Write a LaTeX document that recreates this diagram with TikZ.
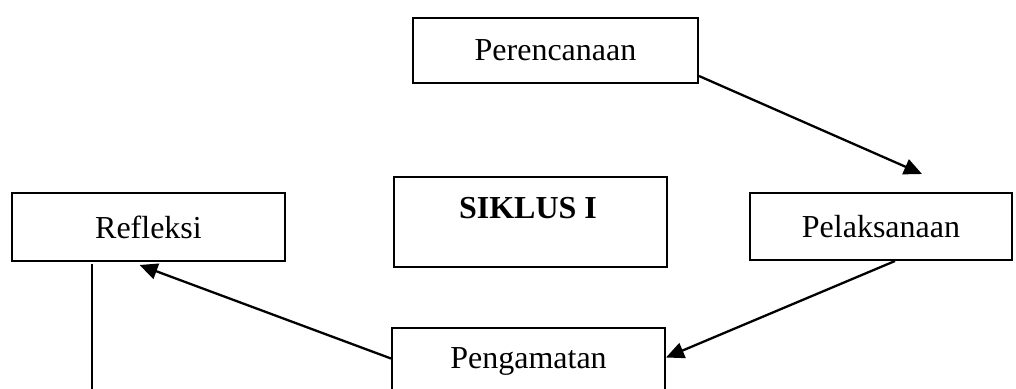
\documentclass[tikz,border=0pt]{standalone}
\usepackage{fontspec}
\setmainfont{Liberation Serif}
\usetikzlibrary{arrows.meta,calc}
\begin{document}
\begin{tikzpicture}[x=1pt,y=-1pt,
  stage/.style={draw=black,line width=2pt,rectangle,inner sep=0pt,
    font=\fontsize{32}{36}\selectfont},
  flow/.style={line width=2.3pt,-{Triangle[length=18pt,width=16pt]}},
  plain/.style={line width=2.3pt}]
  \useasboundingbox (0,0) rectangle (1016,388);
  % stage boxes
  \node[stage,minimum width=285,minimum height=65] (perenc) at (555.5,50.5) {Perencanaan};
  \node[stage,minimum width=273,minimum height=68] (refl) at (148.5,227) {Refleksi};
  \node[stage,minimum width=273,minimum height=90] (siklus) at (530.5,222) {};
  \node[font=\fontsize{32}{36}\selectfont\bfseries,inner sep=0pt,anchor=base] (siklustxt) at (528,218) {SIKLUS I};
  \node[stage,minimum width=262,minimum height=67] (pelak) at (881,226.5) {Pelaksanaan};
  \node[stage,minimum width=273,minimum height=67] (pengam) at (528.5,361.5) {Pengamatan};
  % free ends
  \coordinate (t1) at ($(pelak.north)+(41,-18)$);
  \coordinate (down) at ($(refl.south west)+(81,140)$);
  % cycle connectors
  \draw[flow] ($(perenc.south east)+(0,-8)$) -- (t1);
  \draw[flow] ($(pelak.south)+(14,0)$) -- ($(pengam.east)+(0,-4)$);
  \draw[flow] ($(pengam.west)+(0,-3)$) -- ($(refl.south)+(-9,3)$);
  \draw[plain] ($(refl.south west)+(81,2)$) -- (down);
\end{tikzpicture}
\end{document}
